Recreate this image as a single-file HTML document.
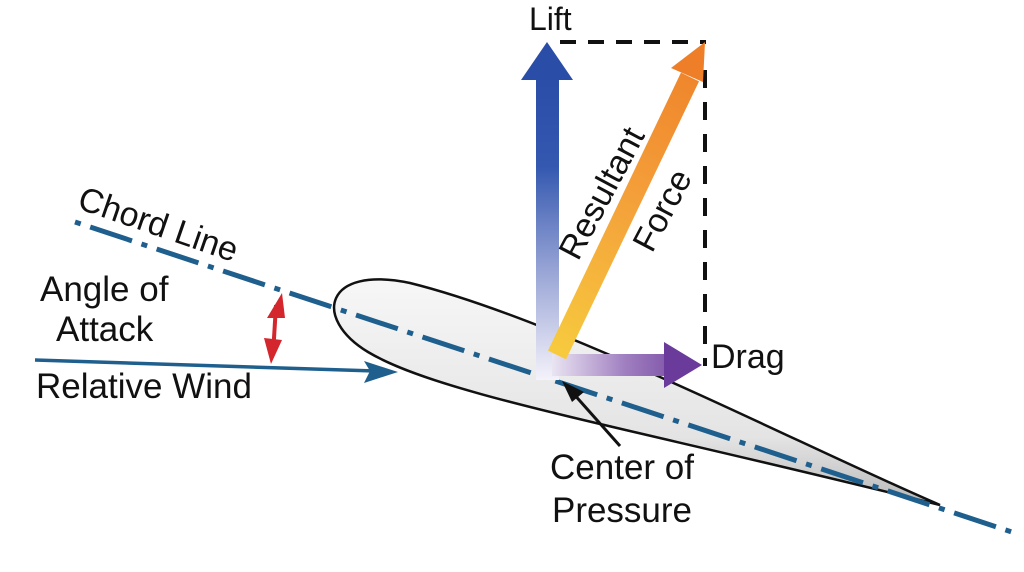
<!DOCTYPE html>
<html><head><meta charset="utf-8"><style>
html,body{margin:0;padding:0;background:#fff;}
svg{display:block;}
text{font-family:"Liberation Sans",Arial,sans-serif;fill:#111;}
</style></head><body>
<svg width="1024" height="572" viewBox="0 0 1024 572" xmlns="http://www.w3.org/2000/svg">
<defs>
<linearGradient id="foil" x1="0" y1="0" x2="0" y2="1">
<stop offset="0" stop-color="#f7f7f7"/><stop offset="0.7" stop-color="#e4e4e4"/><stop offset="1" stop-color="#b8b8b8"/>
</linearGradient>
<linearGradient id="lift" x1="0" y1="1" x2="0" y2="0">
<stop offset="0" stop-color="#f4f2fa"/><stop offset="0.35" stop-color="#9aa6d6"/><stop offset="0.7" stop-color="#3458b0"/><stop offset="1" stop-color="#2a4ea8"/>
</linearGradient>
<linearGradient id="res" gradientUnits="userSpaceOnUse" x1="555" y1="355" x2="705" y2="42">
<stop offset="0" stop-color="#f7cb3e"/><stop offset="0.5" stop-color="#f4a03a"/><stop offset="1" stop-color="#ee7f28"/>
</linearGradient>
<linearGradient id="drag" gradientUnits="userSpaceOnUse" x1="545" y1="0" x2="705" y2="0">
<stop offset="0" stop-color="#f1eef7"/><stop offset="0.5" stop-color="#a07fc0"/><stop offset="1" stop-color="#6a3b9a"/>
</linearGradient>
</defs>

<path d="M940 505 C 800 445, 560 320, 410 283 C 325 265, 312 318, 368 352 C 440 395, 620 425, 940 505 Z" fill="url(#foil)" stroke="#111" stroke-width="2.5"/>

<line x1="75" y1="222" x2="1018" y2="534" stroke="#1f5f8e" stroke-width="5" stroke-dasharray="6 10 44 10"/>

<line x1="35" y1="360" x2="375" y2="371" stroke="#1f5f8e" stroke-width="3.5"/>
<polygon points="398,372 364,361 370,371 364,383" fill="#1f5f8e"/>

<line x1="276" y1="305" x2="273" y2="355" stroke="#d3262d" stroke-width="4"/>
<polygon points="282,293 267,318 285,318" fill="#d3262d"/>
<polygon points="271,364 264,338 282,340" fill="#d3262d"/>

<line x1="560" y1="42" x2="706" y2="42" stroke="#111" stroke-width="4" stroke-dasharray="16 12"/>
<line x1="705" y1="70" x2="705" y2="366" stroke="#111" stroke-width="4" stroke-dasharray="18 14"/>

<rect x="536" y="75" width="23" height="305" fill="url(#lift)"/>
<polygon points="547,42 521,80 573,80" fill="#2a4ea8"/>

<rect x="552" y="354" width="116" height="22" fill="url(#drag)"/>
<polygon points="702,365 664,342 664,388" fill="#6a3b9a"/>

<line x1="557" y1="355" x2="690" y2="77" stroke="url(#res)" stroke-width="20"/>
<polygon points="705,42 671,68 703,82" fill="#ee7f28"/>

<line x1="620" y1="446" x2="572" y2="392" stroke="#111" stroke-width="3"/>
<polygon points="562,381 584,392 572,402" fill="#111"/>

<text x="529" y="30" font-size="32">Lift</text>
<text x="711" y="368" font-size="34">Drag</text>
<text transform="translate(76,208) rotate(19)" font-size="34">Chord Line</text>
<text x="40" y="301" font-size="35">Angle of</text>
<text x="56" y="341" font-size="35">Attack</text>
<text x="36" y="398" font-size="35">Relative Wind</text>
<text x="622" y="479" font-size="35" text-anchor="middle">Center of</text>
<text x="622" y="522" font-size="35" text-anchor="middle">Pressure</text>
<text transform="translate(578,262) rotate(-62)" font-size="34">Resultant</text>
<text transform="translate(652,254) rotate(-62)" font-size="34">Force</text>
</svg>
</body></html>
